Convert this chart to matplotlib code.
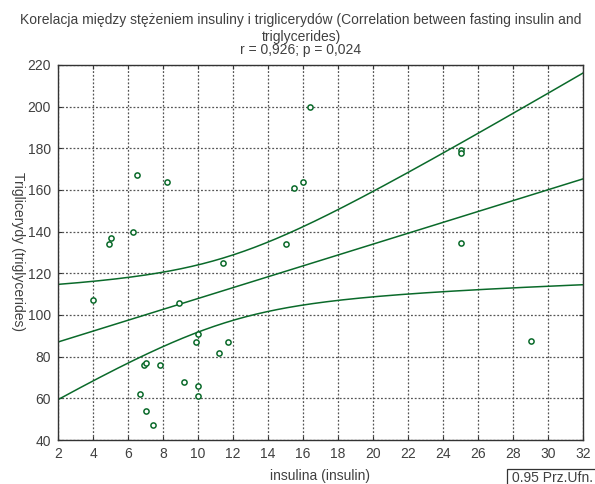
import numpy as np
import matplotlib
matplotlib.use("Agg")
import matplotlib.pyplot as plt
from matplotlib.patches import Rectangle

plt.rcParams['font.family'] = ['Liberation Sans', 'DejaVu Sans']

insulin = [4.0, 4.9, 5.0, 6.3, 6.5, 8.2, 8.9, 11.4, 15.0, 15.5, 16.0, 16.4,
           25.0, 25.0, 25.0, 29.0, 10.0, 9.9, 11.7, 11.2, 6.9, 7.0, 7.8,
           9.2, 10.0, 10.0, 6.7, 7.0, 7.4]
trig = [107, 134, 137, 140, 167, 164, 106, 125, 134, 161, 164, 200,
        179, 178, 134.5, 87.5, 91, 87, 87, 82, 76, 77, 76,
        68, 66, 61, 62, 54, 47]

xticks = list(range(2, 33, 2))
yticks = list(range(40, 221, 20))

title_lines = ["Korelacja między stężeniem insuliny i triglicerydów (Correlation between fasting insulin and",
               "triglycerides)",
               "r = 0,926; p = 0,024"]

x = np.array(insulin)
y = np.array(trig)
n = len(x)
b, a = np.polyfit(x, y, 1)
resid = y - (a + b * x)
s = np.sqrt(np.sum(resid ** 2) / (n - 2))
xbar = x.mean()
sxx = np.sum((x - xbar) ** 2)
tval = 2.052
xs = np.linspace(2, 32, 300)
yfit = a + b * xs
half = tval * s * np.sqrt(1.0 / n + (xs - xbar) ** 2 / sxx)

fig = plt.figure(figsize=(5.95, 4.84), dpi=100)
ax = fig.add_axes([58 / 595, 1 - 440 / 484, (583 - 58) / 595, (440 - 65) / 484])
green = '#0a6a2a'
txtc = '#404040'
ax.plot(xs, yfit, color=green, lw=1.1)
ax.plot(xs, yfit + half, color=green, lw=1.1)
ax.plot(xs, yfit - half, color=green, lw=1.1)
ax.scatter(x, y, s=14, facecolors='white', edgecolors=green, linewidths=1.1, zorder=3)

ax.set_xlim(2, 32)
ax.set_ylim(40, 220)
ax.set_xticks(xticks)
ax.set_yticks(yticks)
ax.grid(True, color='#555555', linestyle=(0, (1.5, 1.5)), linewidth=0.9)
ax.tick_params(direction='in', top=True, right=True, labelsize=10, length=3,
               color='#333333', labelcolor=txtc, pad=5)
for sp in ax.spines.values():
    sp.set_linewidth(1.0)
    sp.set_color('#333333')

ax.set_xlabel('insulina (insulin)', fontsize=10, color=txtc, labelpad=6)
fig.text(18 / 595, 1 - 252 / 484, 'Triglicerydy (triglycerides)', fontsize=10, color=txtc,
         rotation=270, ha='center', va='center')

title_y = [20, 37, 50]
for line, ty in zip(title_lines, title_y):
    fig.text(301 / 595, 1 - ty / 484, line, fontsize=10, color=txtc, ha='center', va='center')

fig.patches.append(Rectangle((507 / 595, -0.05), 0.2, (1 - 469 / 484) + 0.05,
                             transform=fig.transFigure, facecolor='white',
                             edgecolor='#333333', lw=0.9))
fig.text(512 / 595, 1 - 478 / 484, '0.95 Prz.Ufn.', fontsize=10, color=txtc,
         ha='left', va='center')

fig.savefig('out.png', dpi=100)
